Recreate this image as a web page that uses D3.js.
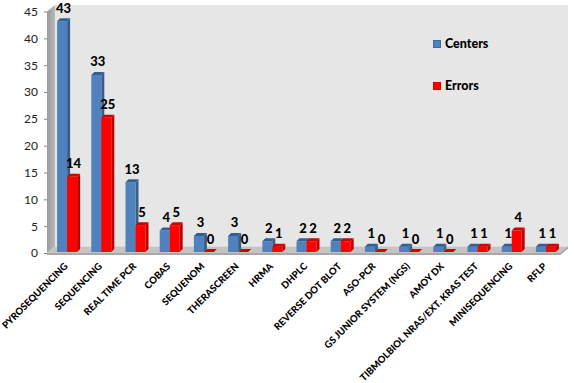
<!DOCTYPE html>
<html>
<head>
<meta charset="utf-8">
<script src="https://cdn.jsdelivr.net/npm/d3@7"></script>
<style>
  body { margin: 0; background: #fff; }
  svg { display: block; }
</style>
</head>
<body>
<svg id="main-svg" width="574" height="383"></svg>
<script>
// chart data
const categories = ["PYROSEQUENCING", "SEQUENCING", "REAL TIME PCR", "COBAS", "SEQUENOM",
    "THERASCREEN", "HRMA", "DHPLC", "REVERSE DOT BLOT", "ASO-PCR", "GS JUNIOR SYSTEM (NGS)",
    "AMOY DX", "TIBMOLBIOL NRAS/EXT. KRAS TEST", "MINISEQUENCING", "RFLP"];
const centers = [43, 33, 13, 4, 3, 3, 2, 2, 2, 1, 1, 1, 1, 1, 1];
const errors = [14, 25, 5, 5, 0, 0, 1, 2, 2, 0, 0, 0, 1, 4, 1];
const seriesNames = ["Centers", "Errors"];
const yTicks = [0, 5, 10, 15, 20, 25, 30, 35, 40, 45];

const svg = d3.select("#main-svg");
const font = "Lato, 'Open Sans', sans-serif";

// colours per series: front, side, top
const palette = {
    Centers: { front: "#4f81bd", side: "#385d8a", top: "#335f95" },
    Errors: { front: "#ff0000", side: "#c00000", top: "#d00000" }
};

// scales
const yScale = d3.scaleLinear().domain([0, 45]).range([253, 11.5]);
const x0 = d3.scaleBand().domain(categories).range([50, 563])
    .paddingInner(0.415).paddingOuter(0.2076);
const x1 = d3.scaleBand().domain(seriesNames).range([0, x0.bandwidth()]);

// wall depth offset and bar depth
const wallDx = 8, wallDy = -6.5;
const barD = 3;
const leftX = 47, rightX = 560;

// back wall
const y0 = yScale(0), yTop = yScale(45);
svg.append("polygon")
    .attr("points", [[leftX + wallDx, yTop + wallDy], [rightX + wallDx, yTop + wallDy],
        [rightX + wallDx, y0 + wallDy], [leftX + wallDx, y0 + wallDy]].join(" "))
    .attr("fill", "#e6e6e6");

// left wall
const grad = svg.append("defs").append("linearGradient")
    .attr("id", "wallGrad").attr("x1", 0).attr("x2", 1).attr("y1", 0).attr("y2", 0);
grad.append("stop").attr("offset", "0%").attr("stop-color", "#9a9a9a");
grad.append("stop").attr("offset", "100%").attr("stop-color", "#b8b8b8");
svg.append("polygon")
    .attr("points", [[leftX, yTop], [leftX + wallDx, yTop + wallDy],
        [leftX + wallDx, y0 + wallDy], [leftX, y0]].join(" "))
    .attr("fill", "url(#wallGrad)");

// floor
svg.append("polygon")
    .attr("points", [[leftX, y0], [leftX + wallDx, y0 + wallDy],
        [rightX + wallDx, y0 + wallDy], [rightX, y0]].join(" "))
    .attr("fill", "#c4c4c4");
svg.append("polygon")
    .attr("points", [[leftX, y0], [rightX, y0], [rightX, y0 + 2], [leftX, y0 + 2]].join(" "))
    .attr("fill", "#a8a8a8");
svg.append("polygon")
    .attr("points", [[rightX, y0], [rightX + wallDx, y0 + wallDy],
        [rightX + wallDx, y0 + wallDy + 2], [rightX, y0 + 2]].join(" "))
    .attr("fill", "#9c9c9c");

// y axis
const yAxis = svg.append("g")
    .attr("transform", `translate(${leftX},0)`)
    .call(d3.axisLeft(yScale).tickValues(yTicks).tickSize(3).tickPadding(6));
yAxis.select(".domain").remove();
yAxis.selectAll(".tick line").attr("stroke", "#888");
yAxis.selectAll(".tick text")
    .attr("font-family", font)
    .attr("font-size", "12px")
    .attr("fill", "#222");

// bars
const table = categories.map((c, i) => ({ cat: c, Centers: centers[i], Errors: errors[i] }));
const base = y0 - 1;

table.forEach(row => {
    seriesNames.forEach(s => {
        const v = row[s];
        const x = x0(row.cat) + x1(s);
        const w = x1.bandwidth();
        const y = yScale(v) - 1;
        const col = palette[s];
        const g = svg.append("g");
        // side face
        g.append("polygon")
            .attr("points", [[x + w, y], [x + w + barD, y - barD], [x + w + barD, base - barD], [x + w, base]].join(" "))
            .attr("fill", col.side);
        // front face
        g.append("rect")
            .attr("x", x).attr("y", y)
            .attr("width", w).attr("height", Math.max(0, base - y))
            .attr("fill", col.front);
        // top face
        g.append("polygon")
            .attr("points", [[x, y], [x + barD, y - barD], [x + w + barD, y - barD], [x + w, y]].join(" "))
            .attr("fill", col.top);
        // value label
        g.append("text")
            .attr("x", x + w / 2 + barD / 2)
            .attr("y", y - 8.5)
            .attr("text-anchor", "middle")
            .attr("font-family", font)
            .attr("font-weight", "900")
            .attr("font-size", "13px")
            .attr("fill", "#000")
            .text(v);
    });
});

// category labels
svg.append("g").selectAll("text")
    .data(categories)
    .enter()
    .append("text")
    .attr("transform", d => `translate(${x0(d) + x0.bandwidth() / 2 - 1},${264.5}) rotate(-45)`)
    .attr("text-anchor", "end")
    .attr("dy", "0.35em")
    .attr("font-family", font)
    .attr("font-weight", "900")
    .attr("font-size", "9.6px")
    .attr("fill", "#000")
    .text(d => d);

// legend
const legend = svg.append("g");
seriesNames.forEach((s, i) => {
    const ly = 44 + i * 42;
    legend.append("rect")
        .attr("x", 433.5).attr("y", ly - 3.5)
        .attr("width", 7).attr("height", 7)
        .attr("fill", palette[s].front)
        .attr("stroke", s === "Centers" ? "#3a6aa3" : "#e00000")
        .attr("stroke-width", 1);
    legend.append("text")
        .attr("x", 445).attr("y", ly)
        .attr("dy", "0.35em")
        .attr("font-family", font)
        .attr("font-weight", "900")
        .attr("font-size", "12.5px")
        .attr("fill", "#000")
        .text(s);
});
</script>
</body>
</html>
